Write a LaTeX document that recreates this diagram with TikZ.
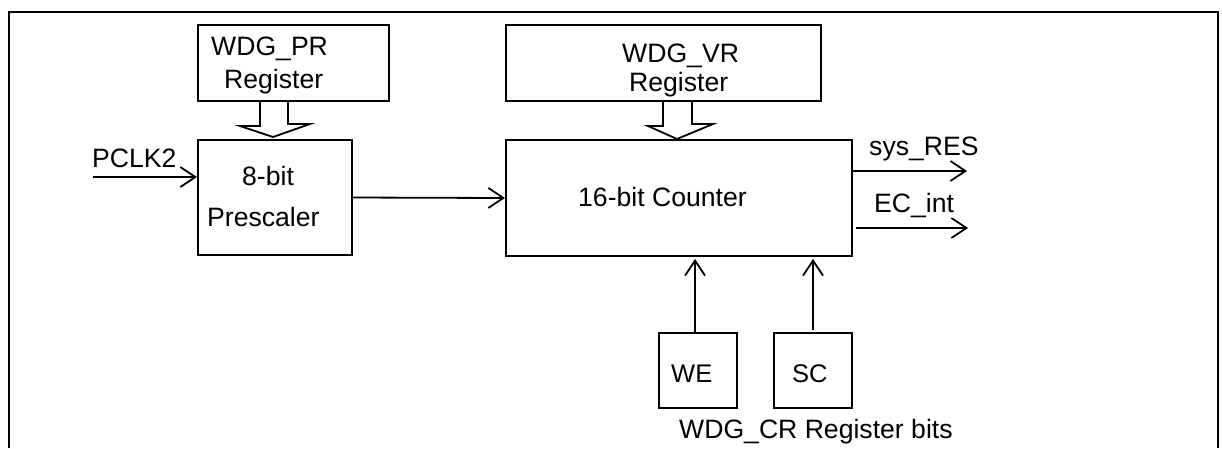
\documentclass[tikz,border=0pt]{standalone}
\usepackage{fontspec}
\setmainfont{Liberation Sans}
\usetikzlibrary{arrows.meta,calc}
\begin{document}
\begin{tikzpicture}[x=1pt,y=-1pt,
  box/.style={draw,line width=2pt,inner sep=0pt},
  tA/.style={inner sep=0pt,anchor=base west,font=\fontsize{26.6}{30}\selectfont},
  tC/.style={inner sep=0pt,anchor=base west,font=\fontsize{25.5}{29}\selectfont},
  sig/.style={line width=1.8pt,-{Straight Barb[length=15pt,width=20pt]}},
  hollow/.style={line width=1.8pt,line join=miter}]
\useasboundingbox (0,0) rectangle (1222,448);
% outer frame
\draw[line width=2.2pt] (9,448) -- (9,12) -- (1218,12) -- (1218,448);
% boxes
\node[box,minimum width=191pt,minimum height=76pt] (pr) at (293.5,63) {};
\node[box,minimum width=154pt,minimum height=115pt] (pre) at (275,197.5) {};
\node[box,minimum width=315pt,minimum height=76pt] (vr) at (663.5,63) {};
\node[box,minimum width=346pt,minimum height=116pt] (cnt) at (679,198) {};
\node[box,minimum width=78pt,minimum height=75pt] (we) at (698,370.5) {};
\node[box,minimum width=78pt,minimum height=75pt] (sc) at (813,370.5) {};
% texts
\node[tA] (prt1) at (211,55) {WDG\_PR};
\node[tA] (prt2) at (224,88) {Register};
\node[tA] (pret1) at (242,185) {8-bit};
\node[tA] (pret2) at (207,226) {Prescaler};
\node[tA] (clkt) at (92,167) {PCLK2};
\node[tA] (vrt1) at (622,62) {WDG\_VR};
\node[tA] (vrt2) at (629,91) {Register};
\node[tA] (cntt) at (578,206) {16-bit Counter};
\node[tA] (rest) at (869,155) {sys\_RES};
\node[tA] (ect) at (874,212) {EC\_int};
\node[tC] (wet) at (671,382) {WE};
\node[tC] (sct) at (792,382) {SC};
\node[tA] (crt) at (679,438) {WDG\_CR Register bits};
% coordinates for free ends
\coordinate (clk) at (93,177);
\coordinate (resend) at (967,171);
\coordinate (ecend) at (968,228);
% hollow bus arrows
\draw[hollow] ($(pr.south)+(-33.5,0)$) -- ++(0,24) -- ++(-20,0)
  -- ($(pre.north)+(-2,-2)$) -- ++(37,-13) -- ++(-22,0) -- ++(0,-24);
\draw[hollow] ($(vr.south)+(-0.5,0)$) -- ++(0,24) -- ++(-15,0)
  -- ($(cnt.north)+(-2,0)$) -- ++(36,-15) -- ++(-21,0) -- ++(0,-24);
% signal arrows
\draw[sig] (clk) -- (clk -| pre.west);
\draw[sig] (pre.east) -- (cnt.west);
\draw[sig] (resend -| cnt.east) -- (resend);
\draw[sig] ($(ecend -| cnt.east)+(3,0)$) -- (ecend);
\draw[sig,shorten >=2pt] ([xshift=-3pt]we.north) -- ([xshift=-3pt]we.north |- cnt.south);
\draw[sig,shorten >=2pt,shorten <=2pt] (sc.north) -- (sc.north |- cnt.south);
\end{tikzpicture}
\end{document}
